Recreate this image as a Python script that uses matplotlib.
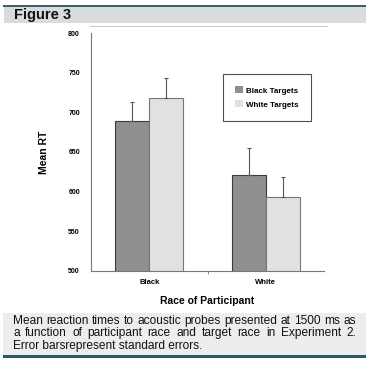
import numpy as np
import matplotlib.pyplot as plt
from matplotlib.patches import Rectangle

plt.rcParams['font.family'] = ['Liberation Sans', 'DejaVu Sans']

# data
participants = ['Black', 'White']
black_targets = [689, 621]
white_targets = [718, 593]
black_err = [24, 34]
white_err = [26, 25]
series_names = ['Black Targets', 'White Targets']
yticks = [500, 550, 600, 650, 700, 750, 800]

caption = ["Mean reaction times to acoustic probes presented at 1500 ms as",
           "a function of participant race and target race in Experiment 2.",
           "Error barsrepresent standard errors."]

W, H = 366, 365
fig = plt.figure(figsize=(W / 100, H / 100), dpi=100)
fig.patch.set_facecolor('white')

def box(x0, y0, x1, y1, color):
    # pixel coords, y from top
    fig.patches.append(Rectangle((x0 / W, 1 - y1 / H), (x1 - x0) / W, (y1 - y0) / H,
                                 transform=fig.transFigure, facecolor=color,
                                 edgecolor='none', zorder=0))

# header band
box(3, 5, 366, 7, '#3b5f6b')
box(4, 7, 366, 23, '#d8dcdc')
fig.text(14 / W, 1 - 15 / H, 'Figure 3', fontsize=10.5, fontweight='bold',
         va='center', ha='left', color='#111111')
# faint line on top of the plot
box(90, 25.5, 328, 26.5, '#c8c8c8')

# caption band
box(3, 313, 366, 355, '#eceeee')
box(3, 355, 366, 358, '#2e5766')

ax = fig.add_axes([91 / W, 1 - 270.7 / H, 233 / W, 237.4 / H])
x = np.arange(len(participants))
bw = 0.29
ekw = dict(ecolor='#555555', elinewidth=0.8, capsize=1.2, capthick=0.8)
ax.bar(x - bw / 2, black_targets, bw, yerr=[[0, 0], black_err], color='#8f8f8f',
       edgecolor='#3c3c3c', linewidth=0.8, label=series_names[0], error_kw=ekw)
ax.bar(x + bw / 2, white_targets, bw, yerr=[[0, 0], white_err], color='#e1e1e1',
       edgecolor='#777777', linewidth=0.8, label=series_names[1], error_kw=ekw)
ax.set_ylim(500, 800)
ax.set_xlim(-0.5, 1.5)
ax.set_yticks(yticks)
ax.set_yticklabels([str(t) for t in yticks], fontsize=5, fontweight='bold')
ax.set_xticks(x)
ax.set_xticklabels(participants, fontsize=5.5, fontweight='bold')
ax.set_xticks([0.5], minor=True)
ax.tick_params(axis='x', which='major', length=0, pad=6)
ax.tick_params(axis='x', which='minor', length=2, color='#777777')
ax.tick_params(axis='y', length=0, pad=8)
for s in ['top', 'right']:
    ax.spines[s].set_visible(False)
for s in ['left', 'bottom']:
    ax.spines[s].set_color('#777777')
    ax.spines[s].set_linewidth(0.8)
ax.set_ylabel('Mean RT', fontsize=7.5, fontweight='bold', labelpad=14)
ax.set_xlabel('Race of Participant', fontsize=7.5, fontweight='bold', labelpad=7)

leg = ax.legend(loc='upper left', bbox_to_anchor=(0.548, 0.845), fontsize=5.8,
                frameon=True, fancybox=False, handlelength=1.0, handleheight=1.0,
                borderpad=1.5, labelspacing=0.7, handletextpad=0.4)
leg.get_frame().set_edgecolor('#222222')
leg.get_frame().set_linewidth(0.8)
for t in leg.get_texts():
    t.set_fontweight('bold')
for h in leg.legend_handles:
    h.set_edgecolor('none')

# justified caption
fig.canvas.draw()
r = fig.canvas.get_renderer()
left, right = 13, 356
ys = [321, 333, 346]
fs = 8.6
for i, line in enumerate(caption):
    yy = 1 - ys[i] / H
    if i == len(caption) - 1:
        fig.text(left / W, yy, line, fontsize=fs, va='center', ha='left', color='#111111')
        continue
    words = line.split()
    texts = [fig.text(0, yy, w_, fontsize=fs, va='center', ha='left', color='#111111')
             for w_ in words]
    widths = [t.get_window_extent(r).width for t in texts]
    gap = (right - left - sum(widths)) / (len(words) - 1)
    pos = left
    for t, w_ in zip(texts, widths):
        t.set_x(pos / W)
        pos += w_ + gap

fig.savefig('out.png', dpi=100)
